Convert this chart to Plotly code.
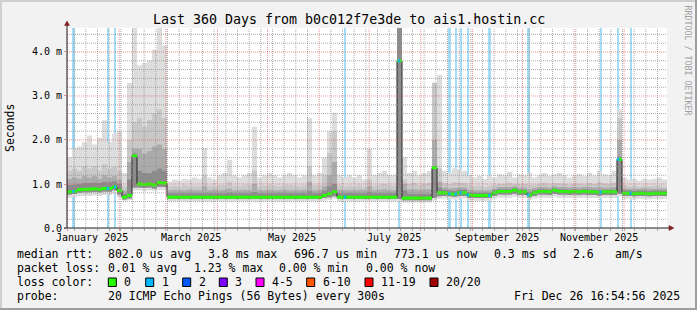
import pandas as pd
import plotly.graph_objects as go

# ---------------- data ----------------
START = pd.Timestamp("2024-12-31 16:54:56")
END = pd.Timestamp("2025-12-26 16:54:56")
STEP_DAYS = 3
Y_MAX = 4.545  # ms

# median rtt per 3-day step (ms)
median_ms = [
    0.82, 0.83, 0.87, 0.88, 0.88, 0.89, 0.88, 0.90, 0.90, 0.93,
    0.85, 0.70, 0.74, 1.64, 1.00, 0.99, 1.00, 0.98, 1.03, 1.02,
    0.70, 0.70, 0.70, 0.70, 0.70, 0.70, 0.70, 0.70, 0.70, 0.70,
    0.70, 0.70, 0.70, 0.70, 0.70, 0.70, 0.70, 0.70, 0.70, 0.70,
    0.70, 0.70, 0.70, 0.70, 0.70, 0.70, 0.70, 0.70, 0.70, 0.70,
    0.70, 0.74, 0.78, 0.82, 0.70, 0.70, 0.70, 0.70, 0.70, 0.70,
    0.70, 0.70, 0.70, 0.70, 0.70, 0.70, 3.80, 0.68, 0.68, 0.68,
    0.68, 0.68, 0.68, 1.37, 0.80, 0.80, 0.78, 0.77, 0.80, 0.80,
    0.75, 0.74, 0.74, 0.74, 0.74, 0.80, 0.83, 0.83, 0.83, 0.86,
    0.82, 0.82, 0.75, 0.80, 0.83, 0.83, 0.82, 0.86, 0.83, 0.83,
    0.82, 0.83, 0.82, 0.83, 0.82, 0.82, 0.81, 0.82, 0.82, 0.82,
    1.56, 0.79, 0.79, 0.78, 0.79, 0.79, 0.78, 0.79, 0.79, 0.79,
]
# slowest ping per step (top of the smoke)
max_ms = [
    1.60, 1.80, 1.85, 1.95, 2.10, 1.90, 2.05, 2.45, 1.95, 2.15,
    2.20, 1.25, 3.30, 4.60, 3.70, 3.75, 3.80, 4.05, 4.60, 4.15,
    1.05, 1.10, 1.08, 1.12, 1.10, 1.15, 1.12, 1.82, 1.15, 1.10,
    1.20, 1.25, 1.55, 1.20, 1.15, 1.20, 1.25, 2.30, 1.15, 1.20,
    1.25, 1.20, 1.15, 1.20, 1.25, 1.20, 1.15, 1.20, 2.50, 1.20,
    1.25, 1.60, 2.20, 2.62, 1.20, 1.15, 1.20, 1.15, 1.20, 1.10,
    1.80, 1.20, 1.25, 1.30, 1.20, 1.20, 4.60, 1.60, 1.25, 1.30,
    1.20, 1.25, 1.30, 3.30, 3.48, 1.30, 1.25, 1.35, 1.33, 1.30,
    1.20, 1.15, 1.18, 1.12, 1.20, 1.15, 1.22, 1.20, 1.28, 1.15,
    1.22, 1.20, 1.25, 1.15, 1.20, 1.25, 1.18, 1.22, 1.25, 1.20,
    1.15, 1.20, 1.22, 1.18, 1.25, 1.20, 1.30, 1.22, 1.20, 1.30,
    2.70, 1.15, 1.10, 1.12, 1.08, 1.12, 1.10, 1.12, 1.15, 1.10,
]
# upper edges of the inner smoke bands
band2_hi = [
    1.30, 1.35, 1.30, 1.40, 1.35, 1.40, 1.30, 1.45, 1.35, 1.40,
    1.30, 0.95, 2.00, 2.40, 2.50, 2.30, 2.45, 2.60, 2.70, 2.50,
    0.95, 0.96, 0.94, 0.97, 0.95, 0.96, 0.95, 1.20, 0.96, 0.95,
    0.97, 0.98, 1.05, 0.96, 0.95, 0.97, 0.98, 1.30, 0.95, 0.96,
    0.98, 0.96, 0.95, 0.97, 0.98, 0.96, 0.95, 0.97, 1.40, 0.97,
    0.98, 1.20, 1.70, 2.20, 0.97, 0.95, 0.96, 0.95, 0.97, 0.94,
    1.10, 0.96, 0.98, 1.00, 0.97, 0.96, 4.60, 1.10, 1.00, 1.02,
    0.98, 1.00, 1.02, 3.30, 1.35, 1.02, 1.00, 1.04, 1.03, 1.02,
    0.98, 0.95, 0.96, 0.94, 0.96, 0.98, 1.00, 1.00, 1.03, 1.00,
    1.00, 1.00, 0.98, 0.98, 1.00, 1.02, 0.99, 1.02, 1.01, 1.00,
    0.99, 1.00, 1.01, 0.99, 1.02, 1.00, 1.04, 1.01, 1.00, 1.03,
    2.50, 0.97, 0.95, 0.96, 0.94, 0.96, 0.95, 0.96, 0.97, 0.95,
]
band3_hi = [
    1.12, 1.15, 1.12, 1.18, 1.15, 1.18, 1.12, 1.20, 1.15, 1.18,
    1.10, 0.85, 1.50, 1.80, 1.80, 1.70, 1.75, 1.85, 1.90, 1.80,
    0.86, 0.87, 0.86, 0.86, 0.87, 0.86, 0.86, 0.95, 0.86, 0.87,
    0.86, 0.87, 0.90, 0.86, 0.86, 0.87, 0.86, 1.00, 0.86, 0.86,
    0.87, 0.86, 0.86, 0.87, 0.86, 0.86, 0.86, 0.87, 1.05, 0.86,
    0.87, 0.95, 1.20, 1.50, 0.87, 0.86, 0.86, 0.86, 0.87, 0.86,
    0.95, 0.86, 0.87, 0.88, 0.86, 0.86, 4.60, 1.00, 0.88, 0.88,
    0.87, 0.88, 0.88, 2.00, 1.05, 0.92, 0.90, 0.91, 0.92, 0.92,
    0.87, 0.86, 0.86, 0.85, 0.86, 0.90, 0.93, 0.93, 0.94, 0.95,
    0.92, 0.92, 0.88, 0.91, 0.93, 0.93, 0.92, 0.95, 0.93, 0.93,
    0.92, 0.93, 0.92, 0.93, 0.93, 0.92, 0.93, 0.92, 0.92, 0.93,
    2.00, 0.90, 0.89, 0.89, 0.89, 0.90, 0.89, 0.89, 0.90, 0.89,
]
band4_hi = [
    0.98, 0.99, 1.00, 1.02, 1.02, 1.03, 1.02, 1.05, 1.04, 1.06,
    1.00, 0.78, 1.10, 1.70, 1.30, 1.25, 1.25, 1.30, 1.35, 1.30,
    0.79, 0.79, 0.79, 0.79, 0.79, 0.79, 0.79, 0.79, 0.79, 0.79,
    0.79, 0.79, 0.80, 0.79, 0.79, 0.79, 0.79, 0.82, 0.79, 0.79,
    0.79, 0.79, 0.79, 0.79, 0.79, 0.79, 0.79, 0.79, 0.84, 0.79,
    0.79, 0.85, 0.95, 1.00, 0.79, 0.79, 0.79, 0.79, 0.79, 0.79,
    0.82, 0.79, 0.79, 0.79, 0.79, 0.79, 4.60, 0.85, 0.77, 0.77,
    0.77, 0.77, 0.77, 1.40, 0.92, 0.87, 0.85, 0.84, 0.87, 0.87,
    0.81, 0.80, 0.80, 0.80, 0.80, 0.86, 0.88, 0.88, 0.88, 0.91,
    0.87, 0.87, 0.81, 0.86, 0.88, 0.88, 0.87, 0.91, 0.88, 0.88,
    0.87, 0.88, 0.87, 0.88, 0.87, 0.87, 0.86, 0.87, 0.87, 0.87,
    1.62, 0.85, 0.85, 0.84, 0.85, 0.85, 0.84, 0.85, 0.85, 0.85,
]
# lower edge of the inner bands and fastest ping
inner_lo = [
    0.76, 0.77, 0.80, 0.81, 0.81, 0.82, 0.81, 0.83, 0.83, 0.86,
    0.76, 0.65, 0.67, 0.92, 0.92, 0.91, 0.92, 0.90, 0.94, 0.93,
    0.66, 0.66, 0.66, 0.66, 0.66, 0.66, 0.66, 0.66, 0.66, 0.66,
    0.66, 0.66, 0.66, 0.66, 0.66, 0.66, 0.66, 0.66, 0.66, 0.66,
    0.66, 0.66, 0.66, 0.66, 0.66, 0.66, 0.66, 0.66, 0.66, 0.66,
    0.66, 0.68, 0.70, 0.72, 0.66, 0.66, 0.66, 0.66, 0.66, 0.66,
    0.66, 0.66, 0.66, 0.66, 0.66, 0.66, 0.66, 0.63, 0.63, 0.63,
    0.63, 0.63, 0.63, 0.68, 0.72, 0.73, 0.72, 0.71, 0.73, 0.73,
    0.68, 0.68, 0.68, 0.68, 0.68, 0.73, 0.76, 0.76, 0.76, 0.78,
    0.75, 0.75, 0.70, 0.73, 0.76, 0.76, 0.75, 0.78, 0.76, 0.76,
    0.75, 0.76, 0.75, 0.76, 0.75, 0.75, 0.74, 0.75, 0.75, 0.75,
    0.78, 0.73, 0.73, 0.72, 0.73, 0.73, 0.72, 0.73, 0.73, 0.73,
]
min_ms = [
    0.69, 0.70, 0.72, 0.73, 0.73, 0.74, 0.73, 0.75, 0.75, 0.77,
    0.70, 0.62, 0.63, 0.85, 0.85, 0.84, 0.85, 0.84, 0.86, 0.86,
    0.60, 0.60, 0.60, 0.60, 0.60, 0.60, 0.60, 0.60, 0.60, 0.60,
    0.60, 0.60, 0.60, 0.60, 0.60, 0.60, 0.60, 0.60, 0.60, 0.60,
    0.60, 0.60, 0.60, 0.60, 0.60, 0.60, 0.60, 0.60, 0.60, 0.60,
    0.60, 0.62, 0.64, 0.66, 0.60, 0.60, 0.60, 0.60, 0.60, 0.60,
    0.60, 0.60, 0.60, 0.60, 0.60, 0.60, 0.60, 0.58, 0.58, 0.58,
    0.58, 0.58, 0.58, 0.62, 0.66, 0.67, 0.66, 0.65, 0.67, 0.67,
    0.62, 0.62, 0.62, 0.62, 0.62, 0.67, 0.69, 0.69, 0.69, 0.71,
    0.68, 0.68, 0.64, 0.67, 0.69, 0.69, 0.68, 0.71, 0.69, 0.69,
    0.68, 0.69, 0.68, 0.69, 0.68, 0.68, 0.68, 0.68, 0.68, 0.68,
    0.72, 0.66, 0.66, 0.65, 0.66, 0.66, 0.65, 0.66, 0.66, 0.66,
]
# days (from START) with 1 lost ping
loss_day_offsets = [3.8, 24.4, 28.8, 166.8, 199.2, 229.4, 233.2, 236.2,
                    240.4, 253.4, 276.8, 320.2, 330.6, 338.2]

month_label_starts = ["2025-01-01", "2025-03-01", "2025-05-01",
                      "2025-07-01", "2025-09-01", "2025-11-01"]
month_labels = ["January 2025", "March 2025", "May 2025",
                "July 2025", "September 2025", "November 2025"]
y_tick_vals = [0, 1, 2, 3, 4]
y_tick_text = ["0.0", "1.0 m", "2.0 m", "3.0 m", "4.0 m"]

title_text = "Last 360 Days from b0c012f7e3de to ais1.hostin.cc"
median_stats = ["802.0 us avg", "3.8 ms max", "696.7 us min",
                "773.1 us now", "0.3 ms sd", "2.6", "am/s"]
loss_stats = ["0.01 % avg", "1.23 % max", "0.00 % min", "0.00 % now"]
loss_color_labels = ["0", "1", "2", "3", "4-5", "6-10", "11-19", "20/20"]
loss_colors = ["#26ff00", "#00b8ff", "#0059ff", "#7e00ff",
               "#ff00ff", "#ff5500", "#ff0000", "#a10000"]
probe_text = "20 ICMP Echo Pings (56 Bytes) every 300s"
stamp_text = "Fri Dec 26 16:54:56 2025"

# ---------------- figure ----------------
MONO = "DejaVu Sans Mono"
W, H = 697, 310
L, R, T, B = 67, 30, 28, 82
PW, PH = W - L - R, H - T - B


def pxx(x):
    return (x - L) / PW


def pxy(y):
    return (H - B - y) / PH


n = len(median_ms)
step = pd.Timedelta(days=STEP_DAYS)
x_edges = [START + step * i for i in range(n)] + [END]


def ext(a):
    return list(a) + [a[-1]]


fig = go.Figure()
bands = [(min_ms, max_ms, "#dddddd"), (inner_lo, band2_hi, "#c8c8c8"),
         (inner_lo, band3_hi, "#ababab"), (inner_lo, band4_hi, "#8c8c8c")]
for lo, hi, col in bands:
    fig.add_trace(go.Scatter(x=x_edges, y=ext(lo), mode="lines",
                             line=dict(width=0, shape="hv"), hoverinfo="skip"))
    fig.add_trace(go.Scatter(x=x_edges, y=ext(hi), mode="lines",
                             line=dict(width=0, shape="hv"), fill="tonexty",
                             fillcolor=col, hoverinfo="skip"))

loss_x = [START + pd.Timedelta(days=d) for d in loss_day_offsets]
fig.add_trace(go.Bar(x=loss_x, y=[Y_MAX] * len(loss_x), base=0,
                     width=1.4 * 86400000,
                     marker=dict(color="#a3ddf6", line=dict(width=0)),
                     hoverinfo="skip"))

fig.add_trace(go.Scatter(x=x_edges, y=ext(median_ms), mode="lines",
                         line=dict(color="#202020", width=1, shape="hv"),
                         hoverinfo="skip"))
gx, gy = [], []
for i in range(n):
    gx += [x_edges[i], x_edges[i + 1], None]
    gy += [median_ms[i], median_ms[i], None]
fig.add_trace(go.Scatter(x=gx, y=gy, mode="lines",
                         line=dict(color=loss_colors[0], width=3), hoverinfo="skip"))
bx, by = [], []
for d in loss_day_offsets:
    v = median_ms[int(d // STEP_DAYS)]
    bx += [START + pd.Timedelta(days=d - 0.7), START + pd.Timedelta(days=d + 0.7), None]
    by += [v, v, None]
fig.add_trace(go.Scatter(x=bx, y=by, mode="lines",
                         line=dict(color=loss_colors[1], width=3), hoverinfo="skip"))

# ---------------- grid (drawn on top like rrdtool) ----------------
shapes = []
GRID = "rgba(143,143,143,0.75)"
MGRID = "rgba(222,79,79,0.6)"
months = pd.date_range("2025-01-01", END, freq="MS")
weeks = pd.date_range("2025-01-05", END, freq="7D")
for t in weeks:
    if t not in months:
        shapes.append(dict(type="line", xref="x", yref="paper", x0=t, x1=t, y0=0, y1=1,
                           line=dict(color=GRID, width=1, dash="1px,1px"), layer="above"))
for t in months:
    shapes.append(dict(type="line", xref="x", yref="paper", x0=t, x1=t, y0=0, y1=1,
                       line=dict(color=MGRID, width=1, dash="1px,1px"), layer="above"))
k = 1
while k * 0.2 < Y_MAX:
    v = k * 0.2
    col = MGRID if k % 5 == 0 else GRID
    shapes.append(dict(type="line", xref="paper", yref="y", x0=0, x1=1, y0=v, y1=v,
                       line=dict(color=col, width=1, dash="1px,1px"), layer="above"))
    k += 1

# axes with arrows
AX = "#1f1f1f"
ARROW = "#7f1f1f"
shapes.append(dict(type="line", xref="paper", yref="paper", x0=0, x1=0, y0=0, y1=pxy(24),
                   line=dict(color=AX, width=1), layer="above"))
shapes.append(dict(type="line", xref="paper", yref="paper", x0=pxx(64), x1=pxx(670), y0=0, y1=0,
                   line=dict(color=AX, width=1), layer="above"))
shapes.append(dict(type="path", xref="paper", yref="paper",
                   path=f"M {pxx(64.5)},{pxy(25.5)} L {pxx(69.5)},{pxy(25.5)} L {pxx(67)},{pxy(21)} Z",
                   fillcolor=ARROW, line=dict(color=ARROW, width=0.5), layer="above"))
shapes.append(dict(type="path", xref="paper", yref="paper",
                   path=f"M {pxx(669)},{pxy(225.5)} L {pxx(669)},{pxy(230.5)} L {pxx(674)},{pxy(228)} Z",
                   fillcolor=ARROW, line=dict(color=ARROW, width=0.5), layer="above"))

# 3-D frame of the image
for (x0, y0, x1, y1, c) in [(0, 0, W, 2, "#cfcfcf"), (0, 0, 2, H, "#cfcfcf"),
                            (0, H - 2, W, H, "#9e9e9e"), (W - 2, 0, W, H, "#9e9e9e")]:
    shapes.append(dict(type="rect", xref="paper", yref="paper", x0=pxx(x0), x1=pxx(x1),
                       y0=pxy(y0), y1=pxy(y1), fillcolor=c, line=dict(width=0), layer="above"))

# legend colour boxes
box_lefts = [108.3, 145.7, 182.7, 219.3, 256.0, 306.7, 365.0, 430.0]
for bxl, col in zip(box_lefts, loss_colors):
    shapes.append(dict(type="rect", xref="paper", yref="paper", x0=pxx(bxl), x1=pxx(bxl + 8),
                       y0=pxy(278), y1=pxy(286.5), fillcolor=col,
                       line=dict(color="#000000", width=1), layer="above"))

# ---------------- text ----------------
ann = []


def text(x, y, s, size=11.5, anchor="left", color="#000000", angle=0, xref="paper"):
    ann.append(dict(xref=xref, yref="paper", x=x if xref != "paper" else pxx(x), y=pxy(y),
                    text=s, showarrow=False, xanchor=anchor, yanchor="middle",
                    borderpad=0, textangle=angle,
                    font=dict(family=MONO, size=size, color=color)))


text(W / 2, 19, title_text, size=13.3, anchor="center")
text(10, 128, "Seconds", size=11.5, anchor="center", angle=-90)
text(687.5, 60, "RRDTOOL / TOBI OETIKER", size=8.3, anchor="center", color="#a0a0a0", angle=90)
for ms, lab in zip(month_label_starts, month_labels):
    text(pd.Timestamp(ms) + pd.Timedelta(days=15), 237.5, lab, size=10, anchor="center", xref="x")

row_y = [254.3, 268.3, 282.3, 296.3]
text(16, row_y[0], "median rtt:")
for s, x in zip(median_stats, [107.3, 207.3, 293.3, 393.3, 493.3, 571.7, 614.3]):
    text(x, row_y[0], s)
text(16, row_y[1], "packet loss:")
for s, x in zip(loss_stats, [107.3, 193.3, 278.3, 365.0]):
    text(x, row_y[1], s)
text(16, row_y[2], "loss color:")
for s, bxl in zip(loss_color_labels, box_lefts):
    text(bxl + 15, row_y[2], s)
text(16, row_y[3], "probe:")
text(107.3, row_y[3], probe_text)
text(513.3, row_y[3], stamp_text)

fig.update_layout(
    width=W, height=H, autosize=False,
    margin=dict(l=L, r=R, t=T, b=B, pad=0),
    paper_bgcolor="#f2f2f2", plot_bgcolor="#ffffff",
    showlegend=False, bargap=0,
    font=dict(family=MONO, size=10, color="#000000"),
    shapes=shapes, annotations=ann,
)
fig.update_xaxes(type="date", range=[START, END], showgrid=False, zeroline=False,
                 showline=False, showticklabels=False, ticks="outside", ticklen=2,
                 tickcolor=MGRID, tickmode="linear", tick0="2025-01-01", dtick="M1",
                 minor=dict(ticks="outside", ticklen=2, tickcolor=GRID,
                            tick0="2025-01-05", dtick=7 * 86400000, showgrid=False))
fig.update_yaxes(range=[0, Y_MAX], tickmode="array", tickvals=y_tick_vals,
                 ticktext=y_tick_text, showgrid=False, zeroline=False, showline=False,
                 ticks="outside", ticklen=2, tickcolor=MGRID,
                 tickfont=dict(family=MONO, size=10, color="#000000"))

fig.write_html("out.html", config={"displayModeBar": False},
               post_script="document.body.style.margin='0';")
